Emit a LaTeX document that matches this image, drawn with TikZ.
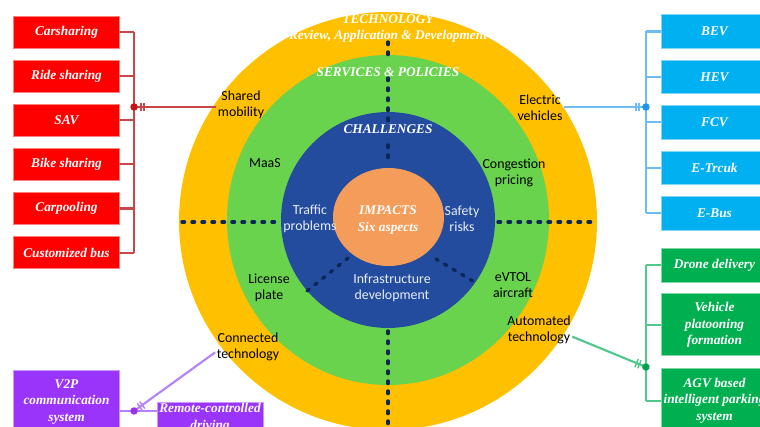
\documentclass[tikz,border=0pt]{standalone}
\usepackage{fontspec}
\setmainfont{Liberation Serif}
\newfontfamily\calibri{Carlito}
\usetikzlibrary{positioning,arrows.meta}

\definecolor{techgold}{RGB}{255,192,0}
\definecolor{servgreen}{RGB}{106,211,78}
\definecolor{chalblue}{RGB}{36,76,158}
\definecolor{impactorange}{RGB}{244,157,90}
\definecolor{divnavy}{RGB}{12,38,88}
\definecolor{innertext}{RGB}{232,236,245}
\definecolor{sharered}{RGB}{255,0,0}
\definecolor{evblue}{RGB}{0,176,240}
\definecolor{autogreen}{RGB}{0,176,80}
\definecolor{connviolet}{RGB}{155,52,250}
\definecolor{redlink}{RGB}{200,70,70}
\definecolor{reddot}{RGB}{200,20,20}
\definecolor{bluelink}{RGB}{110,188,245}
\definecolor{bluedot}{RGB}{30,150,240}
\definecolor{greenlink}{RGB}{80,200,140}
\definecolor{greendot}{RGB}{0,160,80}
\definecolor{violetlink}{RGB}{180,130,250}
\definecolor{violetdot}{RGB}{150,50,240}

\begin{document}
\begin{tikzpicture}[x=0.75pt, y=-0.75pt, node distance=8.5pt]
\tikzset{
  catbox/.style={rectangle, fill=#1, draw=#1!50!white, line width=0.6pt, text=white, align=center,
    font=\fontsize{10}{12.4}\selectfont\bfseries\itshape, minimum width=80pt, minimum height=24pt, inner sep=1pt},
  ringlabel/.style={align=center, inner sep=1pt, font=\fontsize{10.4}{12}\selectfont\calibri},
  innerlabel/.style={ringlabel, text=innertext},
  ringtitle/.style={text=white, align=center, inner sep=1pt, font=\fontsize{10}{12.6}\selectfont\bfseries\itshape},
  divider/.style={divnavy, line width=2.6pt, dash pattern=on 1.9pt off 5.6pt, line cap=round},
  link/.style={line width=1.6pt, draw=#1},
  hubmark/.style={-{Bar[width=6.5pt,line width=1.1pt,sep=1.2pt]Bar[width=6.5pt,line width=1.1pt,sep=2pt]Circle[length=5.5pt,fill=#1,color=#1]},
    shorten >=-2.7pt}
}
\clip (0,0) rectangle (760,427);

% rings
\fill[techgold] (388,221) ellipse [x radius=209, y radius=209];
\fill[servgreen] (388,220) ellipse [x radius=161, y radius=165];
\fill[chalblue] (388,220) ellipse [x radius=107, y radius=108];
\fill[impactorange] (388.5,217) ellipse [x radius=55.5, y radius=49];

% dividers
\draw[divider] (388,42) -- (388,56);
\draw[divider] (388,78) -- (388,122);
\draw[divider] (388,145) -- (388,164);
\draw[divider] (388,331) -- (388,430);
\draw[divider] (182,222) -- (280,222);
\draw[divider] (498,222) -- (597,222);
\draw[divider] (348,258) -- (307,291);
\draw[divider] (436,259) -- (476,283);

% ring titles
\node[ringtitle] (tech) at (388,28.5) {TECHNOLOGY\\Review, Application \& Development};
\node[ringtitle] (serv) at (388,72) {SERVICES \& POLICIES};
\node[ringtitle] (chal) at (388,129) {CHALLENGES};
\node[ringtitle] (impact) at (388,220) {IMPACTS\\Six aspects};

% technology ring
\node[ringlabel] (shared) at (241,105) {Shared\\mobility};
\node[ringlabel] (electric) at (540,108) {Electric\\vehicles};
\node[ringlabel] (automated) at (539,330) {Automated\\technology};
\node[ringlabel] (connected) at (248,347) {Connected\\technology};

% services ring
\node[ringlabel] (maas) at (265,163) {MaaS};
\node[ringlabel] (congestion) at (514,173) {Congestion\\pricing};
\node[ringlabel] (license) at (269,288) {License\\plate};
\node[ringlabel] (evtol) at (513,285) {eVTOL\\aircraft};

% challenges ring
\node[innerlabel] (traffic) at (310,219) {Traffic\\problems};
\node[innerlabel] (safety) at (462,219) {Safety\\risks};
\node[innerlabel] (infra) at (392,288) {Infrastructure\\development};

% shared mobility
\node[catbox=sharered] (carsh) at (66.5,32) {Carsharing};
\node[catbox=sharered, below=of carsh] (rides) {Ride sharing};
\node[catbox=sharered, below=of rides] (sav) {SAV};
\node[catbox=sharered, below=of sav] (bikes) {Bike sharing};
\node[catbox=sharered, below=of bikes] (carpool) {Carpooling};
\node[catbox=sharered, below=of carpool] (custbus) {Customized bus};

% electric vehicles
\node[catbox=evblue, minimum height=25pt] (bev) at (714.5,31.5) {BEV};
\node[catbox=evblue, minimum height=25pt, below=of bev] (hev) {HEV};
\node[catbox=evblue, minimum height=25pt, below=of hev] (fcv) {FCV};
\node[catbox=evblue, minimum height=25pt, below=of fcv] (etruck) {E-Trcuk};
\node[catbox=evblue, minimum height=25pt, below=of etruck] (ebus) {E-Bus};

% automated technology
\node[catbox=autogreen, minimum height=25.5pt] (drone) at (714.5,265) {Drone delivery};
\node[catbox=autogreen, minimum height=46.5pt, below=8.25pt of drone] (platoon) {Vehicle\\platooning\\formation};
\node[catbox=autogreen, minimum height=48pt, below=9pt of platoon] (agv) {AGV based\\intelligent parking\\system};

% connected technology
\node[catbox=connviolet, minimum height=48pt] (v2p) at (66.5,402) {V2P\\communication\\system};
\node[catbox=connviolet, minimum width=79.5pt] (remote) at (210,418) {Remote-controlled\\driving};

% hubs
\coordinate (redhub) at (134,107);
\coordinate (bluehub) at (646,107);
\coordinate (greenhub) at (646,367);
\coordinate (violethub) at (134,411);

% red links
\foreach \b in {carsh,rides,sav,bikes,carpool,custbus}
  \draw[link=redlink] (\b.east) -- (\b.east -| redhub);
\draw[link=redlink] (carsh.east -| redhub) -- (custbus.east -| redhub);
\draw[link=redlink, hubmark=reddot] (shared.west |- redhub) -- (redhub);

% blue links
\foreach \b in {bev,hev,fcv,etruck,ebus}
  \draw[link=bluelink] (\b.west) -- (\b.west -| bluehub);
\draw[link=bluelink] (bev.west -| bluehub) -- (ebus.west -| bluehub);
\draw[link=bluelink, hubmark=bluedot] (electric.east |- bluehub) -- (bluehub);

% green links
\foreach \b in {drone,platoon,agv}
  \draw[link=greenlink] (\b.west) -- (\b.west -| greenhub);
\draw[link=greenlink] (drone.west -| greenhub) -- (agv.west -| greenhub);
\draw[link=greenlink, hubmark=greendot] ([yshift=-5pt]automated.east) -- (greenhub);

% violet links
\draw[link=violetlink] (v2p.east |- violethub) -- (remote.west |- violethub);
\draw[link=violetlink, hubmark=violetdot] ([yshift=-4pt]connected.west) -- (violethub);
\end{tikzpicture}
\end{document}
